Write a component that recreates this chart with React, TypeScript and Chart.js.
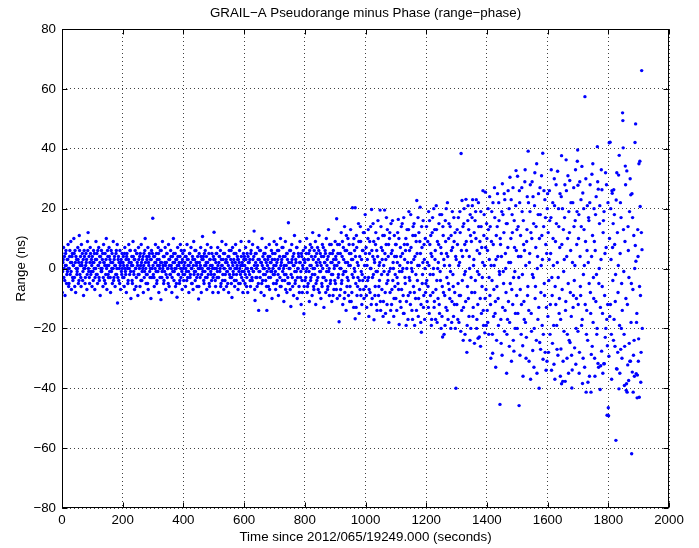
import React, { useEffect, useRef } from "react";
import { Chart, registerables } from "chart.js";

Chart.register(...registerables);

const TITLE = "GRAIL\u2212A Pseudorange minus Phase (range\u2212phase)";
const X_LABEL = "Time since 2012/065/19249.000 (seconds)";
const Y_LABEL = "Range (ns)";
const X_TICKS = [0, 200, 400, 600, 800, 1000, 1200, 1400, 1600, 1800, 2000];
const Y_TICKS = [-80, -60, -40, -20, 0, 20, 40, 60, 80];

// [time (s), range (ns)] pairs, flattened in 100 s slices
const pts0000 = [0,5, 1,-8, 3,2, 5,7, 6,-3, 8,4, 10,-9, 11,1, 13,6, 15,-5, 17,3, 18,-1, 20,8, 22,-6, 24,0, 25,4, 27,-2, 29,9, 31,-7, 32,2, 34,5, 36,-4, 38,1, 39,10, 41,-3, 43,6, 45,-8, 47,0, 48,3, 50,-1, 52,7, 54,-5, 55,2, 57,11, 59,-2, 61,4, 63,-6, 64,8, 66,1, 68,-4, 70,3, 71,-9, 73,6, 75,0, 77,-3, 79,5, 80,2, 82,-7, 84,9, 86,12, 88,-1, 89,4, 91,-5, 93,7, 95,-2, 97,3, 99,-6];
const pts0100 = [101,2, 103,-4, 104,6, 106,0, 108,-7, 110,3, 112,9, 113,-2, 115,5, 117,-5, 119,1, 121,7, 122,-3, 124,4, 126,-9, 128,0, 130,6, 131,-1, 133,3, 135,-6, 137,8, 139,2, 140,-4, 142,5, 144,-2, 146,10, 148,-7, 149,1, 151,4, 153,-3, 155,7, 157,-1, 158,3, 160,-8, 162,6, 164,0, 166,-5, 167,2, 169,9, 171,-3, 173,4, 175,-6, 176,1, 178,5, 180,-2, 182,8, 183,-11.5, 185,3, 187,-4, 189,0, 191,6, 193,-7, 194,2, 196,-1, 198,5];
const pts0200 = [200,-3, 202,4, 203,1, 205,-6, 207,7, 209,-1, 211,3, 212,-8, 214,5, 216,0, 218,-4, 220,8, 221,2, 223,-2, 225,6, 227,-10, 229,1, 230,4, 232,-5, 234,9, 236,-1, 238,3, 239,-7, 241,6, 243,0, 245,-3, 247,5, 248,2, 250,-9, 252,7, 254,-2, 256,4, 257,-6, 259,1, 261,8, 263,-4, 265,3, 266,0, 268,-8, 270,5, 272,-1, 274,10, 275,2, 277,-5, 279,4, 281,-2, 283,7, 284,-7, 286,1, 288,5, 290,-3, 292,3, 293,-10, 295,6, 297,0, 299,16.8];
const pts0300 = [301,-2, 302,4, 304,-6, 306,2, 308,8, 310,-1, 311,5, 313,-4, 315,1, 317,7, 319,-8, 320,3, 322,0, 324,6, 326,-10.4, 328,2, 329,-3, 331,9, 333,1, 335,-5, 337,4, 338,-1, 340,7, 342,-7, 344,2, 346,5, 347,-3, 349,0, 351,8, 353,-6, 355,3, 356,-2, 358,6, 360,1, 362,-8, 364,4, 365,-1, 367,10, 369,-4, 371,2, 373,5, 374,-6, 376,0, 378,3, 379,-9.6, 381,7, 383,-2, 385,1, 387,-5, 389,4, 390,8, 392,-3, 394,2, 396,-7, 398,5];
const pts0400 = [400,0, 401,-4, 403,6, 405,2, 407,-6, 409,4, 410,-1, 412,8, 414,-3, 416,3, 418,-8, 419,1, 421,5, 423,-2, 425,7, 427,-5, 428,0, 430,4, 432,-7, 434,9, 436,-1, 437,3, 439,-4, 441,6, 443,1, 445,-6, 446,2, 448,-2, 450,-10.2, 452,5, 454,0, 455,-3, 457,7, 459,-8, 461,3, 463,10.7, 464,-1, 466,4, 468,-5, 470,1, 472,6, 473,-3, 475,2, 477,-7, 479,8, 481,0, 482,-2, 484,5, 486,-6, 488,3, 490,-1, 491,7, 493,-4, 495,1, 497,-8, 499,4];
const pts0500 = [501,12.1, 502,-2, 504,3, 506,-6, 508,5, 509,0, 511,-3, 513,7, 515,-8, 517,2, 518,4, 520,-1, 522,6, 524,-5, 526,1, 527,9, 529,-4, 531,3, 533,-7, 535,0, 536,5, 538,-2, 540,8, 542,-6, 544,2, 545,-1, 547,4, 549,-8, 551,6, 553,0, 554,-3, 556,3, 558,-5, 560,-9.7, 562,7, 563,1, 565,-2, 567,5, 569,-6, 571,2, 572,8, 574,-4, 576,0, 578,4, 580,-7, 581,3, 583,-1, 585,6, 587,-5, 589,1, 590,9, 592,-3, 594,2, 596,-8, 598,5];
const pts0600 = [600,-1, 601,4, 603,-5, 605,7, 607,0, 609,-3, 610,5, 612,-8, 614,2, 616,9, 618,-2, 619,3, 621,-6, 623,6, 625,0, 627,-4, 628,8, 630,-1, 632,4, 633,12.5, 635,-7, 636,-10.7, 638,2, 640,5, 642,-3, 644,1, 645,7, 647,-5, 648,-14, 650,3, 652,-1, 654,6, 656,-8, 657,2, 659,10, 661,-4, 663,0, 665,5, 666,-9, 668,3, 670,-2, 672,7, 674,-6, 675,-14, 677,1, 679,4, 681,-3, 683,8, 684,-7, 686,2, 688,-1, 690,6, 692,-10, 693,3, 695,0, 697,-5, 699,9];
const pts0700 = [700,-2, 702,5, 704,-7, 705,1, 707,8, 709,-4, 711,3, 713,-9, 714,6, 716,0, 718,-3, 720,10, 722,-6, 723,2, 725,7, 727,-1, 729,4, 731,-11, 732,1, 734,-4, 736,9, 738,-2, 740,5, 741,-8, 743,3, 745,-5, 746,15.3, 748,0, 750,6, 752,-7, 754,-12.7, 756,2, 757,8, 759,-3, 761,4, 763,-9, 765,1, 766,11, 768,-5, 770,3, 772,-1, 774,7, 775,-10, 777,0, 779,5, 781,-6, 783,2, 784,9, 786,-3, 788,-12, 790,4, 792,-8, 793,1, 795,6, 797,-15.1, 799,3];
const pts0800 = [801,-4, 802,7, 804,-1, 806,10, 808,-8, 810,3, 811,-5, 813,5, 815,-11, 817,1, 818,8, 820,-3, 822,4, 824,-9, 826,12, 827,0, 829,-6, 831,6, 833,-2, 835,9, 836,-12, 838,2, 840,-4, 842,7, 844,-7, 845,3, 847,11, 849,-1, 851,5, 853,-10, 854,1, 856,-5, 858,8, 860,-3, 862,4, 863,-13, 865,2, 867,6, 869,-8, 871,10, 872,-1, 874,3, 876,-6, 878,13, 880,0, 881,-9, 883,5, 885,-4, 887,8, 889,-11, 890,2, 892,-2, 894,6, 896,-7, 898,1];
const pts0900 = [900,9, 901,-5, 903,3, 905,16.6, 907,-10, 909,5, 911,-2, 913,-17.8, 914,8, 916,0, 918,-7, 920,12, 922,-4, 923,4, 925,-12, 927,7, 929,-1, 931,14, 932,-8, 934,2, 936,-14, 938,6, 940,-3, 942,10, 944,-9, 945,1, 947,5, 949,-6, 951,13, 953,-11, 954,3, 956,-2, 957,20.3, 959,8, 961,-13, 963,0, 964,6, 966,20.3, 966,-16.8, 968,-5, 970,11, 972,-9, 973,2, 975,-3, 977,15, 979,-15, 981,4, 982,-7, 984,9, 986,-1, 988,-12, 990,6, 991,-4, 993,12, 995,-10, 997,1, 999,18];
const pts1000 = [1001,-6, 1002,7, 1004,-13, 1006,3, 1008,10, 1010,-3, 1011,-16, 1013,5, 1015,-8, 1017,14, 1018,0, 1020,19.7, 1022,-10, 1024,4, 1026,-2, 1027,9, 1028,-17.1, 1030,2, 1032,-6, 1034,12, 1036,-12, 1037,6, 1039,-1, 1041,16, 1043,-9, 1045,1, 1046,-4, 1048,19.5, 1050,-14, 1052,7, 1054,-7, 1055,3, 1057,11, 1059,-11, 1061,-1, 1063,19.5, 1064,5, 1066,-15, 1068,8, 1070,-5, 1072,13, 1073,-2, 1075,4, 1077,-18, 1079,10, 1081,-8, 1082,0, 1084,15, 1086,-12, 1088,6, 1090,-4, 1091,2, 1093,-16, 1095,11, 1097,-6, 1099,8];
const pts1100 = [1100,-10, 1102,4, 1104,-3, 1106,12, 1108,16.4, 1109,-7, 1111,-18.7, 1113,1, 1115,7, 1117,-13, 1118,14, 1120,-1, 1122,5, 1124,-9, 1126,17, 1127,-15, 1129,3, 1131,-5, 1133,10, 1135,-11, 1136,0, 1138,8, 1140,-17, 1142,13, 1144,-3, 1145,6, 1147,-8, 1149,18, 1151,2, 1153,-14, 1154,-1, 1156,11, 1158,-6, 1160,15, 1162,-19, 1163,4, 1165,-10, 1167,9, 1169,22.7, 1171,-4, 1172,1, 1174,-16, 1176,12, 1178,-7, 1180,20.5, 1181,5, 1183,-12, 1184,-21.3, 1186,7, 1188,-2, 1190,16, 1192,-9, 1194,3, 1195,-17, 1197,10, 1199,-5];
const pts1200 = [1201,14, 1203,-11, 1204,2, 1206,-6, 1208,19, 1210,-15, 1212,8, 1213,-2, 1215,11, 1217,-19, 1219,4, 1221,17, 1222,-8, 1224,0, 1226,-13, 1228,13, 1230,6, 1231,-17, 1233,21, 1235,-4, 1237,9, 1239,-10, 1240,2, 1242,15, 1244,-15, 1246,-1, 1248,7, 1249,-20, 1251,18, 1253,-6, 1254,-22.9, 1256,11, 1258,3, 1259,-22, 1261,-9, 1263,16, 1265,-13, 1267,5, 1268,-3, 1270,22, 1272,-17, 1274,10, 1276,-7, 1277,1, 1279,14, 1281,-20, 1283,6, 1285,-11, 1286,19, 1288,-2, 1290,-16, 1292,9, 1294,-8, 1295,12, 1296,-20, 1298,-40, 1299,3];
const pts1300 = [1301,-12, 1303,8, 1305,-5, 1306,17, 1308,-18, 1310,2, 1312,12, 1313,-9, 1315,38.4, 1317,-14, 1318,22.7, 1320,4, 1322,-24, 1324,15, 1326,-2, 1327,8, 1328,-22, 1330,-11, 1331,23.1, 1333,6, 1334,-28, 1336,-6, 1338,21, 1340,13, 1341,-16, 1343,0, 1345,18, 1347,-20, 1349,9, 1350,-8, 1352,21, 1353,23, 1355,-13, 1357,3, 1359,-25, 1361,16, 1362,-4, 1364,10, 1365,23, 1367,-17, 1369,-1, 1371,-23.3, 1373,14, 1375,-22.9, 1376,5, 1378,-10, 1380,19, 1382,-15, 1383,7, 1385,-3, 1387,26, 1389,-19, 1390,11, 1392,1, 1393,-21.5, 1395,25.5, 1397,-7, 1399,15];
const pts1400 = [1401,-14, 1402,6, 1404,20, 1406,-22, 1408,3, 1410,-9, 1411,14, 1413,-30, 1415,9, 1417,-4, 1419,-28.3, 1420,22, 1422,-16, 1424,1, 1426,17, 1428,-11, 1429,-33, 1431,11, 1433,-6, 1435,25, 1436,4, 1438,-19, 1440,16, 1442,-2, 1443,-45.4, 1445,8, 1447,-25, 1449,19, 1451,28.3, 1452,-13, 1454,-1, 1456,12, 1458,-21, 1459,23, 1461,5, 1463,-8, 1465,-35, 1467,15, 1468,-17, 1470,26, 1472,2, 1474,-26, 1476,30.5, 1477,-5, 1479,10, 1481,-31, 1483,18, 1485,-12, 1486,27, 1488,-3, 1489,-27.6, 1491,7, 1493,-20, 1495,21, 1496,32.7, 1498,-9, 1499,13];
const pts1500 = [1501,30.8, 1502,-15, 1504,4, 1506,-45.8, 1508,22, 1510,-7, 1511,11, 1513,-22, 1515,27, 1517,-2, 1518,-25.8, 1520,16, 1522,-11, 1524,6, 1526,33, 1527,-18, 1529,-30, 1531,9, 1533,24, 1535,-6, 1536,39.2, 1538,-14, 1540,2, 1542,19, 1544,-37, 1545,12, 1547,-21, 1549,29, 1551,-27.4, 1553,-3, 1554,15, 1555,-33, 1557,21, 1559,-10, 1561,7, 1563,-24, 1564,35, 1566,0, 1568,-17, 1570,25, 1572,-40, 1573,10, 1574,-24.7, 1576,18, 1578,-8, 1580,31, 1582,-19, 1583,3, 1584,38.5, 1585,-30.3, 1587,14, 1589,-5, 1591,23, 1592,-28, 1594,8, 1596,-13, 1598,-31, 1599,20];
const pts1600 = [1601,-16, 1602,12, 1604,-4, 1606,26, 1608,-22, 1610,5, 1611,17, 1613,-34, 1615,-9, 1617,22, 1619,1, 1620,-19, 1622,30, 1624,-37, 1626,9, 1627,-12, 1629,15, 1631,-27, 1633,32.5, 1635,-3, 1636,20, 1638,-15, 1640,7, 1642,-36, 1644,-26.9, 1645,24, 1646,37.7, 1646,-38.5, 1648,-7, 1650,-37.7, 1652,13, 1654,-21, 1655,3, 1657,28, 1658,-37.7, 1660,-11, 1661,36.3, 1662,26, 1664,-30, 1666,10, 1668,-5, 1670,19, 1671,-24, 1673,29.4, 1674,-24.7, 1676,6, 1678,-16, 1680,-39.9, 1681,-33.9, 1683,22, 1685,-9, 1687,14, 1689,-26.5, 1690,1, 1692,33, 1694,-20, 1696,8, 1698,35.8, 1699,39.6, 1700,27.8];
const pts1700 = [1701,-12, 1703,18, 1705,-28, 1707,4, 1708,-6, 1710,23, 1712,-19, 1713,34.1, 1715,-38.4, 1716,25.2, 1718,-2, 1720,13, 1722,-33, 1723,57.4, 1725,9, 1727,-41.3, 1729,-14, 1731,21, 1732,-24, 1734,2, 1736,16, 1738,-36, 1740,28, 1741,-8, 1743,-41.3, 1744,-28.7, 1746,31.5, 1748,11, 1750,-18, 1751,-3, 1753,20, 1755,-30, 1757,6, 1759,-11, 1760,24, 1762,-22, 1764,40.7, 1766,-31.7, 1767,26.5, 1769,-5, 1771,15, 1773,-40.4, 1775,-32.5, 1776,3, 1778,-27.6, 1779,26.3, 1781,-15, 1783,12, 1785,-31.8, 1786,19, 1788,-9, 1790,-23, 1791,32, 1793,7, 1795,-17, 1796,-49, 1797,-25.8, 1799,22];
const pts1800 = [1800,-46.5, 1801,-49.2, 1802,-29.3, 1803,42, 1804,10, 1806,42.2, 1807,-12, 1809,3, 1810,-22, 1812,26, 1813,25.1, 1815,-4, 1816,15, 1818,26.3, 1819,-17, 1821,8, 1822,-26, 1824,-2, 1825,-57.4, 1826,22.9, 1827,-33.5, 1829,-33.6, 1830,12, 1832,-8, 1834,31.2, 1835,-40.2, 1836,37.8, 1837,-19, 1839,5, 1841,-27, 1842,17, 1844,-5, 1846,-14, 1847,52, 1848,49.4, 1849,40.3, 1851,-1, 1852,-22, 1853,-39.1, 1855,9, 1856,34.2, 1857,28, 1858,-10, 1859,-40.7, 1860,-38.5, 1861,32.6, 1862,-41.3, 1864,-32.2, 1865,14, 1867,-37.4, 1868,-3, 1870,19, 1871,-31, 1873,-31, 1874,24.6, 1875,-18, 1877,-61.9, 1878,25, 1879,-34.6, 1881,-7, 1882,-41.3, 1884,11, 1885,-24, 1887,0, 1888,42.1, 1889,7.7, 1890,48.3, 1891,2.4, 1892,-35.1, 1894,-15, 1895,-43.2, 1896,-35.6, 1898,4, 1900,-23.5, 1901,35, 1902,-43, 1904,35.8, 1905,20.7, 1906,-9, 1908,-28, 1910,66.1, 1911,6.3, 1912,-20];

// second pass of readings from the denser core of each slice
const more0000 = [0.5,2, 2,-1, 4,3, 7,0, 9,-4, 12,5, 14,1, 16,-2, 19,3, 21,0, 23,-5, 26,6, 28,2, 30,-1, 33,4, 35,-3, 37,1, 40,5, 42,-6, 44,2, 46,4, 49,-2, 51,0, 53,3, 56,-4, 58,6, 60,1, 62,-3, 65,2, 67,5, 69,-1, 72,0, 74,4, 76,-5, 78,1, 81,3, 83,-2, 85,6, 87,0, 90,-3, 92,2, 94,5, 96,-1, 98,1];
const more0100 = [100,4, 102,-1, 105,2, 107,5, 109,-3, 111,0, 114,3, 116,-2, 118,6, 120,1, 123,-4, 125,2, 127,4, 129,-1, 132,0, 134,5, 136,-3, 138,2, 141,1, 143,-5, 145,3, 147,0, 150,6, 152,-2, 154,1, 156,4, 159,-3, 161,2, 163,-1, 165,5, 168,0, 170,-4, 172,3, 174,1, 177,-2, 179,6, 181,0, 184,-3, 186,4, 188,2, 190,-5, 192,1, 195,3, 197,-2, 199,0];
const more0200 = [201,2, 204,-3, 206,5, 208,0, 210,-2, 213,4, 215,1, 217,-5, 219,3, 222,0, 224,6, 226,-1, 228,2, 231,-4, 233,1, 235,4, 237,-2, 240,3, 242,0, 244,-6, 246,5, 249,1, 251,-2, 253,3, 255,0, 258,5, 260,-4, 262,2, 264,-1, 267,4, 269,1, 271,-3, 273,6, 276,0, 278,-2, 280,3, 282,-5, 285,2, 287,4, 289,-1, 291,0, 294,3, 296,-3, 298,5];
const more0300 = [300,1, 303,-3, 305,4, 307,0, 309,2, 312,-5, 314,3, 316,-1, 318,5, 321,1, 323,-3, 325,2, 327,6, 330,-1, 332,0, 334,4, 336,-4, 339,2, 341,1, 343,-2, 345,5, 348,0, 350,-5, 352,3, 354,1, 357,-2, 359,4, 361,0, 363,-3, 366,2, 368,5, 370,-1, 372,0, 375,3, 377,-5, 380,1, 382,4, 384,-2, 386,2, 388,-4, 391,0, 393,6, 395,-1, 397,3, 399,-2];
const more0400 = [402,1, 404,-2, 406,4, 408,0, 411,-4, 413,3, 415,1, 417,-1, 420,5, 422,-3, 424,2, 426,0, 429,-5, 431,3, 433,1, 435,-2, 438,6, 440,-1, 442,2, 444,-3, 447,4, 449,0, 451,-6, 453,2, 456,1, 458,4, 460,-2, 462,0, 465,3, 467,-4, 469,5, 471,-1, 474,1, 476,4, 478,-3, 480,2, 483,0, 485,-5, 487,3, 489,1, 492,-2, 494,5, 496,0, 498,-3];
const more0500 = [500,3, 503,0, 505,-4, 507,2, 510,5, 512,-1, 514,1, 516,-3, 519,4, 521,0, 523,-6, 525,3, 528,1, 530,-2, 532,5, 534,0, 537,-4, 539,2, 541,3, 543,-1, 546,-5, 548,1, 550,4, 552,-2, 555,0, 557,6, 559,-3, 561,2, 564,-1, 566,3, 568,-4, 570,0, 573,5, 575,-2, 577,1, 579,3, 582,-5, 584,2, 586,0, 588,-2, 591,4, 593,-1, 595,1, 597,-4, 599,3];
const more0600 = [602,1, 604,-2, 606,3, 608,-6, 611,0, 613,4, 615,-1, 617,2, 620,-4, 622,5, 624,0, 626,-3, 629,3, 631,-1, 634,1, 637,5, 639,-3, 641,0, 643,-6, 646,3, 649,-1, 651,6, 653,-3, 655,2, 658,-5, 660,1, 662,4, 664,-2, 667,0, 669,5, 671,-4, 673,2, 676,-1, 678,3, 680,-6, 682,0, 685,4, 687,-3, 689,2, 691,-1, 694,5, 696,-2, 698,1];
const more0700 = [701,3, 703,-1, 706,-5, 708,2, 710,6, 712,-2, 715,0, 717,4, 719,-6, 721,1, 724,3, 726,-4, 728,7, 730,0, 733,-2, 735,4, 737,-7, 739,1, 742,5, 744,-3, 747,2, 749,-5, 751,0, 753,6, 755,-2, 758,3, 760,-6, 762,1, 764,5, 767,-1, 769,-4, 771,2, 773,7, 776,-3, 778,0, 780,4, 782,-8, 785,2, 787,-1, 789,5, 791,-4, 794,0, 796,3, 798,-6];
const more0800 = [800,2, 803,-3, 805,5, 807,0, 809,-6, 812,3, 814,-1, 816,6, 819,-4, 821,1, 823,7, 825,-2, 828,3, 830,-7, 832,0, 834,4, 837,-5, 839,5, 841,1, 843,-3, 846,6, 848,-8, 850,2, 852,-1, 855,4, 857,-6, 859,0, 861,7, 864,-3, 866,2, 868,5, 870,-4, 873,1, 875,-7, 877,4, 879,-1, 882,8, 884,-5, 886,2, 888,-2, 891,5, 893,-9, 895,3, 897,0, 899,-4];
const more0900 = [902,4, 904,-7, 906,1, 908,8, 910,-3, 912,2, 915,-9, 917,5, 919,0, 921,-5, 924,9, 926,-2, 928,3, 930,-10, 933,6, 935,-1, 937,11, 939,-6, 941,2, 943,-4, 946,8, 948,-11, 950,1, 952,5, 955,-8, 958,3, 960,-3, 962,10, 965,-1, 967,4, 969,-13, 971,7, 974,-6, 976,1, 978,9, 980,-4, 983,14, 985,-9, 987,3, 989,-2, 992,6, 994,-7, 996,12, 998,-3];
const more1000 = [1000,5, 1003,-9, 1005,1, 1007,-4, 1009,13, 1012,-7, 1014,9, 1016,0, 1019,-12, 1021,6, 1023,-3, 1025,15, 1029,3, 1031,-9, 1033,8, 1035,-1, 1038,-14, 1040,4, 1042,10, 1044,-6, 1047,2, 1049,-11, 1051,14, 1053,-2, 1056,6, 1058,-16, 1060,1, 1062,11, 1065,-8, 1067,3, 1069,17, 1071,-12, 1074,-4, 1076,8, 1078,-1, 1080,12, 1083,-14, 1085,5, 1087,-7, 1089,16, 1092,0, 1094,-10, 1096,4, 1098,-2];
const more1100 = [1101,8, 1103,-14, 1105,2, 1107,-5, 1110,10, 1112,-1, 1114,-11, 1116,4, 1119,-7, 1121,15, 1123,0, 1125,-15, 1128,8, 1130,-3, 1132,6, 1134,-19, 1137,13, 1139,2, 1141,-9, 1143,19, 1146,-4, 1148,-12, 1150,7, 1152,0, 1155,-17, 1157,14, 1159,3, 1161,-8, 1164,11, 1166,-2, 1168,-14, 1170,5, 1173,17, 1175,-10, 1177,1, 1179,9, 1182,-18, 1185,14, 1187,-5, 1189,2, 1191,-13, 1193,8, 1196,0, 1198,-8];
const more1200 = [1202,-4, 1205,9, 1207,-13, 1209,1, 1211,16, 1214,-9, 1216,5, 1218,-17, 1220,12, 1223,-2, 1225,20, 1227,-11, 1229,3, 1232,-7, 1234,13, 1236,-18, 1238,0, 1241,8, 1243,-12, 1245,18, 1247,-4, 1250,5, 1252,-16, 1255,14, 1257,-8, 1260,1, 1262,-19, 1264,9, 1266,20, 1269,-14, 1271,4, 1273,-5, 1275,15, 1278,-10, 1280,-1, 1282,11, 1284,-18, 1287,7, 1289,-6, 1291,17, 1293,-12, 1297,4];
const more1300 = [1302,13, 1304,-17, 1307,1, 1309,-9, 1311,19, 1314,-21, 1316,6, 1319,-4, 1321,14, 1323,-13, 1325,20, 1329,-1, 1332,9, 1335,-19, 1337,16, 1339,-10, 1342,4, 1344,-24, 1346,11, 1348,-3, 1351,17, 1354,-16, 1356,1, 1358,12, 1360,-8, 1363,19, 1366,-20, 1368,6, 1370,-12, 1372,22, 1374,-2, 1377,9, 1379,-26, 1381,14, 1384,-6, 1386,2, 1388,-14, 1391,18, 1394,-10, 1396,7, 1398,-19];
const more1400 = [1400,10, 1403,-18, 1405,13, 1407,-3, 1409,24, 1412,-12, 1414,1, 1416,19, 1418,-22, 1421,8, 1423,-7, 1425,27, 1427,-15, 1430,3, 1432,-24, 1434,14, 1437,-10, 1439,22, 1441,-1, 1444,10, 1446,-17, 1448,4, 1450,-29, 1453,18, 1455,-5, 1457,25, 1460,-14, 1462,0, 1464,15, 1466,-22, 1469,7, 1471,-11, 1473,20, 1475,-18, 1478,2, 1480,23, 1482,-7, 1484,12, 1487,-24, 1490,16, 1492,-1, 1494,-15, 1497,6];
const more1500 = [1500,-20, 1503,14, 1505,-3, 1507,26, 1509,-29, 1512,4, 1514,-12, 1516,19, 1519,-36, 1521,8, 1523,-17, 1525,29, 1528,1, 1530,-23, 1532,13, 1534,-9, 1537,22, 1539,-31, 1541,5, 1543,28, 1546,-15, 1548,10, 1550,-2, 1552,24, 1556,-20, 1558,32, 1560,-6, 1562,14, 1565,-35, 1567,4, 1569,18, 1571,-13, 1575,27, 1577,-27, 1579,1, 1581,11, 1586,-22, 1588,26, 1590,-9, 1593,17, 1595,-34, 1597,5];
const more1600 = [1600,25, 1603,-28, 1605,3, 1607,16, 1609,-12, 1612,33, 1614,-3, 1616,-25, 1618,10, 1621,-32, 1623,21, 1625,-6, 1628,28, 1630,-19, 1632,2, 1634,-29, 1637,14, 1639,-10, 1641,25, 1643,-17, 1647,8, 1649,20, 1651,-31, 1653,-1, 1656,17, 1659,-14, 1663,4, 1665,-22, 1667,31, 1669,-35, 1672,12, 1675,-8, 1677,22, 1679,-29, 1682,2, 1684,-13, 1686,27, 1688,-4, 1691,16, 1693,-32, 1695,-10, 1697,19];
const more1700 = [1700,-21, 1702,10, 1704,-35, 1706,29, 1709,-9, 1711,14, 1714,-17, 1717,-30, 1719,20, 1721,1, 1724,-12, 1726,30, 1728,-22, 1730,6, 1733,-38, 1735,17, 1737,-5, 1739,22, 1742,-15, 1745,4, 1747,-26, 1749,35, 1752,-10, 1754,9, 1756,-36, 1758,18, 1761,-2, 1763,-20, 1765,29, 1768,-33, 1770,0, 1772,21, 1774,-13, 1777,33, 1780,-6, 1782,-35, 1784,16, 1787,-31.8, 1789,5, 1792,-20, 1794,28, 1798,-12];
const more1800 = [1805,-16, 1808,20, 1811,-37, 1814,7, 1817,-24, 1820,18, 1823,-11, 1828,32, 1831,-28, 1833,1, 1838,-35, 1840,22, 1843,-20, 1845,-30, 1850,13, 1854,-26, 1863,-12, 1866,6, 1869,-25, 1872,30, 1876,-5, 1880,17, 1883,-29, 1886,-36, 1893,-18, 1897,13, 1899,-31, 1903,-6, 1907,-38, 1909,12];

const SLICES = [
  pts0000, pts0100, pts0200, pts0300, pts0400, pts0500, pts0600, pts0700, pts0800, pts0900,
  pts1000, pts1100, pts1200, pts1300, pts1400, pts1500, pts1600, pts1700, pts1800,
  more0000, more0100, more0200, more0300, more0400, more0500, more0600, more0700, more0800, more0900,
  more1000, more1100, more1200, more1300, more1400, more1500, more1600, more1700, more1800,
];

function toPoints(): { x: number; y: number }[] {
  const out: { x: number; y: number }[] = [];
  for (const s of SLICES) {
    for (let i = 0; i + 1 < s.length; i += 2) out.push({ x: s[i], y: s[i + 1] });
  }
  return out;
}

const FONT = '"Liberation Sans", Arial, Helvetica, sans-serif';
const FS = 13.33;

function fmt(v: number): string {
  return v < 0 ? "\u2212" + Math.abs(v) : String(v);
}

const matlabFrame = {
  id: "matlabFrame",
  afterDraw(chart: any) {
    const { ctx, chartArea: a, scales } = chart;
    const L = Math.round(a.left) + 0.5;
    const R = Math.round(a.right) - 0.5;
    const T = Math.round(a.top) + 0.5;
    const B = Math.round(a.bottom) - 0.5;
    ctx.save();
    ctx.strokeStyle = "#000";
    ctx.lineWidth = 1;
    ctx.setLineDash([]);
    ctx.strokeRect(L, T, R - L, B - T);
    const tl = 5;
    ctx.beginPath();
    for (const v of X_TICKS) {
      const px = Math.round(scales.x.getPixelForValue(v)) + 0.5;
      ctx.moveTo(px, B);
      ctx.lineTo(px, B - tl);
      ctx.moveTo(px, T);
      ctx.lineTo(px, T + tl);
    }
    for (const v of Y_TICKS) {
      const py = Math.round(scales.y.getPixelForValue(v)) + 0.5;
      ctx.moveTo(L, py);
      ctx.lineTo(L + tl, py);
      ctx.moveTo(R, py);
      ctx.lineTo(R - tl, py);
    }
    ctx.stroke();

    ctx.fillStyle = "#000";
    ctx.font = `${FS}px ${FONT}`;
    ctx.textAlign = "center";
    ctx.textBaseline = "middle";
    const cx = (a.left + a.right) / 2;
    ctx.fillText(TITLE, cx, 13);
    ctx.fillText(X_LABEL, cx, 537);
    ctx.translate(21, (a.top + a.bottom) / 2);
    ctx.rotate(-Math.PI / 2);
    ctx.fillText(Y_LABEL, 0, 0);
    ctx.restore();
  },
};

export default function App() {
  const ref = useRef<HTMLCanvasElement | null>(null);
  useEffect(() => {
    if (!ref.current) return;
    const chart = new Chart(ref.current, {
      type: "scatter",
      data: {
        datasets: [
          {
            data: toPoints(),
            backgroundColor: "#0000ff",
            borderColor: "#0000ff",
            pointRadius: 1.7,
            pointBorderWidth: 0,
            pointHoverRadius: 0,
            showLine: false,
          },
        ],
      },
      options: {
        responsive: false,
        animation: false,
        events: [],
        layout: { padding: { left: 0, right: 30, top: 29, bottom: 0 } },
        plugins: {
          legend: { display: false },
          tooltip: { enabled: false },
          title: { display: false },
        },
        scales: {
          x: {
            type: "linear",
            min: 0,
            max: 2000,
            afterBuildTicks: (s: any) => {
              s.ticks = X_TICKS.map((value) => ({ value }));
            },
            afterFit: (s: any) => {
              s.height = 40;
            },
            ticks: {
              color: "#000",
              font: { family: FONT, size: FS },
              padding: 4,
              maxRotation: 0,
              autoSkip: false,
              callback: (v: any) => fmt(Number(v)),
            },
            grid: { color: "rgba(0,0,0,0.75)", lineWidth: 1, drawTicks: false },
            border: { display: false, dash: [1, 3] },
          },
          y: {
            type: "linear",
            min: -80,
            max: 80,
            afterBuildTicks: (s: any) => {
              s.ticks = Y_TICKS.map((value) => ({ value }));
            },
            afterFit: (s: any) => {
              s.width = 62;
            },
            ticks: {
              color: "#000",
              font: { family: FONT, size: FS },
              padding: 6,
              autoSkip: false,
              callback: (v: any) => fmt(Number(v)),
            },
            grid: { color: "rgba(0,0,0,0.75)", lineWidth: 1, drawTicks: false },
            border: { display: false, dash: [1, 3] },
          },
        },
      },
      plugins: [matlabFrame],
    });
    return () => chart.destroy();
  }, []);

  return (
    <div style={{ position: "fixed", left: 0, top: 0, width: 699, height: 548, background: "#fff" }}>
      <canvas ref={ref} width={699} height={548} style={{ display: "block", width: 699, height: 548 }} />
    </div>
  );
}
